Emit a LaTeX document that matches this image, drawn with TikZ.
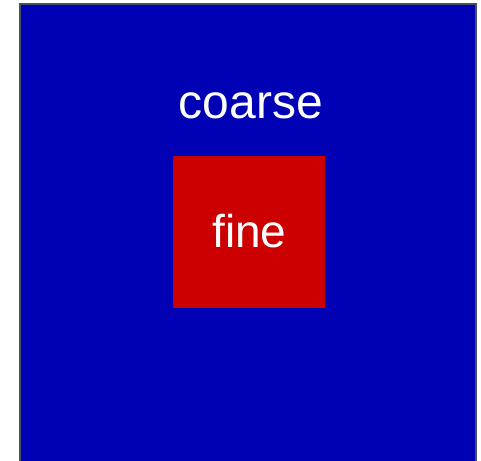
\documentclass[tikz,border=0pt]{standalone}
\usepackage{fontspec}
\setmainfont{Liberation Sans}
\definecolor{coarseblue}{RGB}{0,0,180}
\definecolor{finered}{RGB}{204,0,0}
\definecolor{edgegray}{RGB}{74,80,100}
\begin{document}
\begin{tikzpicture}[x=1pt, y=1pt,
    coarsebox/.style={fill=coarseblue, draw=edgegray, line width=2pt},
    finebox/.style={fill=finered, minimum size=152pt, inner sep=0pt, text=white},
    label/.style={text=white, inner sep=0pt}]
    \useasboundingbox (0,0) rectangle (481,460);
    \clip (0,0) rectangle (481,460);

    % Coarse grid
    \draw[coarsebox] (20,-4) rectangle (476,456);
    \node[label, anchor=base] (coarse) at (251,341) {\fontsize{48}{48}\selectfont coarse};

    % Fine grid
    \node[finebox] (fine) at (249,228) {};
    \node[label, anchor=base] (finetext) at (249.5,212) {\fontsize{46}{46}\selectfont fine};
\end{tikzpicture}
\end{document}
